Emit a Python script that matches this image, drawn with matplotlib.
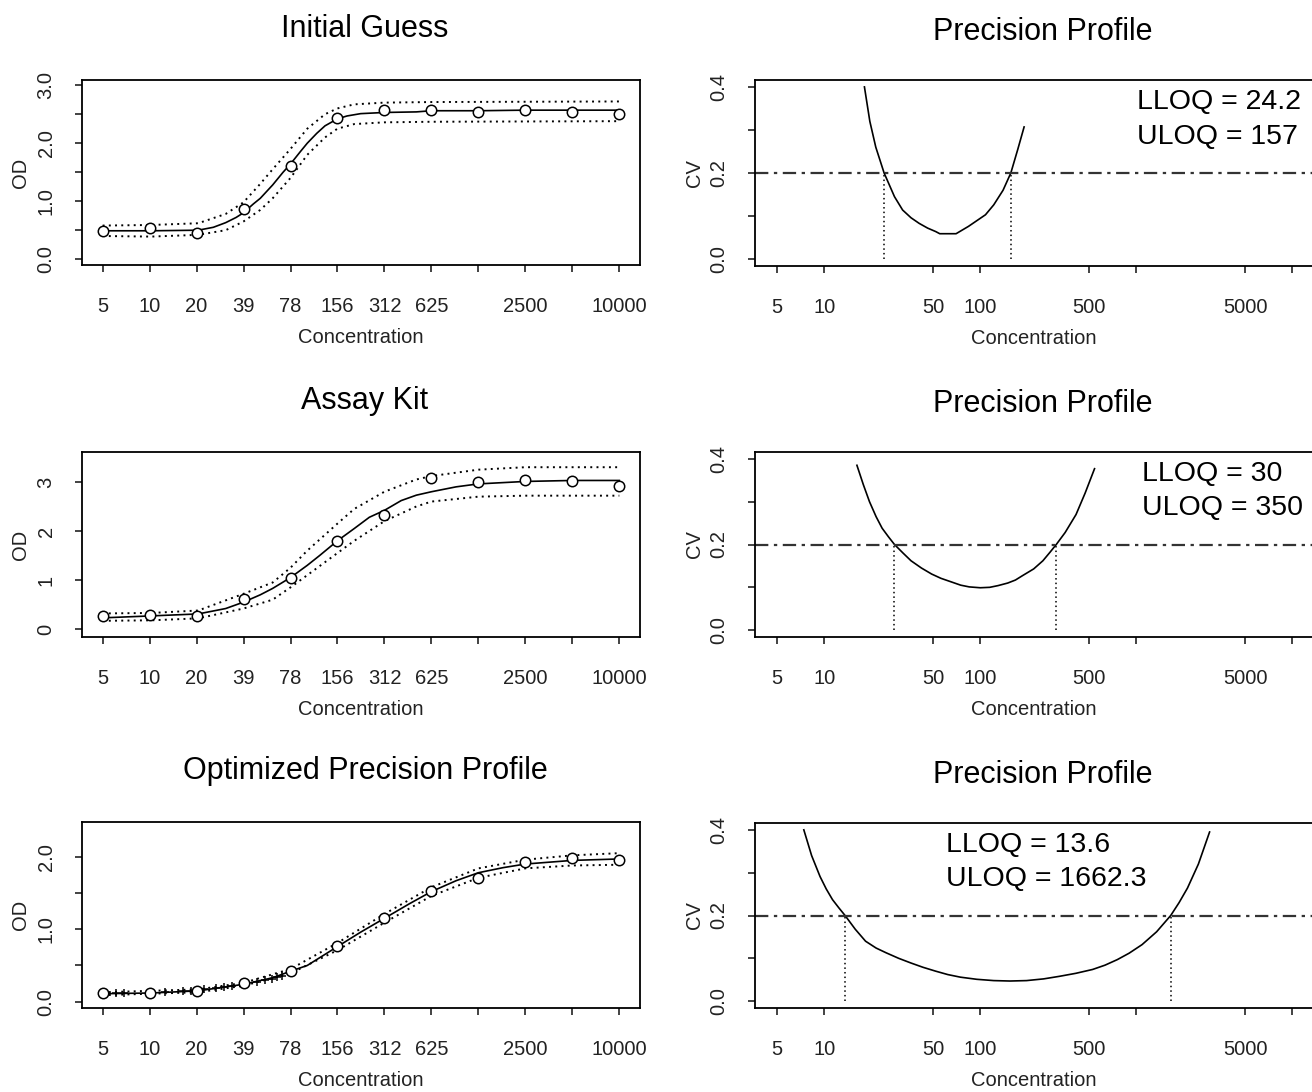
import matplotlib
matplotlib.use("Agg")
from matplotlib import pyplot as plt

plt.rcParams["font.family"] = ["Liberation Sans", "DejaVu Sans"]

# Dilution series (standard-curve panels)
dilution_conc = [4.88, 9.77, 19.53, 39.06, 78.13, 156.25, 312.5, 625, 1250, 2500, 5000, 10000]
dilution_labels = ["5", "10", "20", "39", "78", "156", "312", "625", "", "2500", "", "10000"]

# Precision-profile x ticks
cv_ticks = [5, 10, 50, 100, 500, 1000, 5000, 10000]
cv_tick_labels = ["5", "10", "50", "100", "500", "", "5000", ""]

# --- Initial Guess -------------------------------------------------------
init_obs = [0.49, 0.545, 0.46, 0.86, 1.61, 2.43, 2.57, 2.57, 2.54, 2.58, 2.54, 2.50]
init_fit_c = [4.88, 10, 20, 25, 30, 35, 39, 45, 50, 60, 70, 78, 90, 100, 115, 130,
              156, 180, 220, 312, 500, 625, 1250, 2500, 5000, 10000]
init_fit_od = [0.49, 0.49, 0.50, 0.55, 0.63, 0.72, 0.80, 0.95, 1.05, 1.28, 1.50, 1.64,
               1.85, 2.00, 2.17, 2.30, 2.42, 2.47, 2.51, 2.53, 2.54, 2.56, 2.56, 2.57,
               2.57, 2.57]
init_up_c = [4.88, 10, 20, 30, 39, 50, 60, 78, 100, 130, 156, 200, 312, 625, 10000]
init_up_od = [0.58, 0.59, 0.62, 0.78, 0.98, 1.30, 1.55, 1.90, 2.25, 2.50, 2.60, 2.67,
              2.70, 2.71, 2.72]
init_lo_c = [4.88, 10, 20, 30, 39, 50, 60, 78, 100, 130, 156, 200, 312, 625, 10000]
init_lo_od = [0.40, 0.39, 0.42, 0.50, 0.65, 0.85, 1.05, 1.40, 1.80, 2.10, 2.25, 2.33,
              2.36, 2.37, 2.38]

# --- Assay Kit -----------------------------------------------------------
kit_obs = [0.26, 0.29, 0.26, 0.61, 1.04, 1.79, 2.32, 3.08, 3.00, 3.03, 3.01, 2.91]
kit_fit_c = [4.88, 10, 20, 30, 39, 50, 60, 78, 100, 120, 156, 200, 250, 312, 400, 500,
             625, 900, 1250, 2500, 5000, 10000]
kit_fit_od = [0.23, 0.27, 0.31, 0.42, 0.55, 0.70, 0.83, 1.05, 1.30, 1.50, 1.80, 2.05,
              2.28, 2.42, 2.62, 2.73, 2.80, 2.90, 2.96, 3.01, 3.03, 3.03]
kit_up_c = [4.88, 10, 20, 39, 60, 78, 100, 156, 200, 312, 500, 625, 1250, 2500, 10000]
kit_up_od = [0.32, 0.33, 0.38, 0.72, 0.95, 1.25, 1.60, 2.15, 2.45, 2.80, 3.05, 3.12,
             3.25, 3.30, 3.30]
kit_lo_c = [4.88, 10, 20, 39, 60, 78, 100, 156, 200, 312, 500, 625, 1250, 2500, 10000]
kit_lo_od = [0.17, 0.18, 0.22, 0.42, 0.60, 0.85, 1.10, 1.55, 1.80, 2.20, 2.50, 2.60,
             2.70, 2.72, 2.72]

# --- Optimized Precision Profile -----------------------------------------
opt_obs = [0.115, 0.124, 0.15, 0.26, 0.43, 0.77, 1.15, 1.53, 1.71, 1.93, 1.98, 1.96]
opt_fit_c = [4.88, 10, 20, 39, 60, 78, 100, 156, 220, 312, 450, 625, 900, 1250, 1800,
             2500, 5000, 10000]
opt_fit_od = [0.11, 0.12, 0.15, 0.24, 0.33, 0.42, 0.50, 0.76, 0.96, 1.15, 1.35, 1.52,
              1.67, 1.78, 1.85, 1.90, 1.95, 1.97]
opt_up_c = [4.88, 20, 39, 78, 156, 312, 625, 1250, 2500, 5000, 10000]
opt_up_od = [0.13, 0.17, 0.26, 0.45, 0.81, 1.21, 1.58, 1.84, 1.96, 2.02, 2.05]
opt_lo_c = [4.88, 20, 39, 78, 156, 312, 625, 1250, 2500, 5000, 10000]
opt_lo_od = [0.09, 0.13, 0.22, 0.39, 0.71, 1.09, 1.46, 1.71, 1.84, 1.88, 1.89]
opt_rep_c = [5.93, 6.69, 12.3, 16.0, 18.1, 21.9, 26.0, 29.3, 33.1, 47.6, 53.8, 59.2,
             63.7, 68.5]
opt_rep_od = [0.115, 0.115, 0.13, 0.147, 0.15, 0.17, 0.193, 0.207, 0.22, 0.276, 0.30,
              0.32, 0.345, 0.354]

# --- Precision profiles --------------------------------------------------
pp1_c = [18.1, 19.6, 21.4, 24.2, 28.2, 31.8, 36, 40.6, 46, 51.8, 55, 70, 84, 108, 122,
         140, 157, 174, 191]
pp1_cv = [0.40, 0.32, 0.26, 0.20, 0.145, 0.114, 0.096, 0.083, 0.072, 0.064, 0.059,
          0.059, 0.076, 0.103, 0.126, 0.16, 0.20, 0.255, 0.307]
pp1_lloq, pp1_uloq = 24.2, 157

pp2_c = [16.2, 17.8, 19.5, 21.5, 23.5, 25.8, 28.2, 32, 36, 42, 48.8, 56, 66, 75, 85,
         100, 115, 130, 150, 168, 186, 220, 252, 280, 307, 350, 411, 470, 540]
pp2_cv = [0.385, 0.34, 0.30, 0.265, 0.238, 0.218, 0.20, 0.18, 0.162, 0.145, 0.131,
          0.121, 0.112, 0.105, 0.101, 0.099, 0.100, 0.104, 0.11, 0.117, 0.127, 0.143,
          0.162, 0.182, 0.20, 0.228, 0.27, 0.32, 0.377]
pp2_lloq, pp2_uloq = 28.2, 307

pp3_c = [7.4, 8.3, 9.4, 10.3, 11.3, 12.4, 13.6, 15.8, 18.4, 21.5, 24.9, 30, 36, 43,
         51.8, 62, 74.6, 95, 122, 155, 198, 255, 322, 410, 525, 630, 756, 900, 1089,
         1350, 1662.3, 1880, 2128, 2500, 2950]
pp3_cv = [0.40, 0.34, 0.291, 0.262, 0.237, 0.218, 0.20, 0.168, 0.14, 0.124, 0.113,
          0.10, 0.089, 0.079, 0.07, 0.062, 0.056, 0.051, 0.048, 0.047, 0.048, 0.052,
          0.058, 0.065, 0.074, 0.084, 0.097, 0.112, 0.132, 0.162, 0.20, 0.23, 0.264,
          0.32, 0.395]
pp3_lloq, pp3_uloq = 13.6, 1662.3

XLIM = (3.6, 13570)
W, H = 1312, 1092


def _axes(fig, left_px, top_px, bottom_px, width_px=558):
    return fig.add_axes([left_px / W, 1 - bottom_px / H, width_px / W,
                         (bottom_px - top_px) / H])


def _style(ax):
    for sp in ax.spines.values():
        sp.set_linewidth(1.3)
    ax.set_xscale("log")
    ax.set_xlim(*XLIM)
    ax.minorticks_off()
    ax.tick_params(axis="both", direction="out", length=5, width=1.2,
                   labelsize=14.5, colors="#222222")
    ax.tick_params(axis="x", pad=18)
    ax.tick_params(axis="y", labelrotation=90, pad=14)
    ax.set_xlabel("Concentration", fontsize=14.5, color="#222222")
    ax.xaxis.set_label_coords(0.5, -0.39)
    ax.xaxis.label.set_va("center")


def draw_standard(ax, title, obs, fit_c, fit_od, up_c, up_od, lo_c, lo_od,
                  ylim, yticks, ylabels, rep=None):
    band = dict(color="black", lw=1.4, ls=(0, (1, 2.2)))
    ax.plot(up_c, up_od, **band)
    ax.plot(lo_c, lo_od, **band)
    ax.plot(fit_c, fit_od, color="black", lw=1.2)
    if rep is not None:
        ax.plot(rep[0], rep[1], "+", color="black", ms=6, mew=1.1, ls="none")
    ax.plot(dilution_conc, obs, "o", mfc="white", mec="black", ms=7.5, mew=1.1,
            ls="none")
    _style(ax)
    ax.set_xticks(dilution_conc)
    ax.set_xticklabels(dilution_labels)
    ax.set_ylim(*ylim)
    ax.set_yticks(yticks)
    ax.set_yticklabels(ylabels, rotation=90, va="center")
    ax.set_ylabel("OD", fontsize=14.5, color="#222222")
    ax.yaxis.set_label_coords(-0.111, 0.5)
    ax.yaxis.label.set_va("center")
    ax.set_title(title, fontsize=22, pad=31, x=0.507)


def draw_profile(ax, c, cv, lloq, uloq, lines, text_x):
    ax.plot(c, cv, color="black", lw=1.2)
    ax.axhline(0.2, color="#333333", lw=1.6, ls=(0, (6, 2.5, 1.5, 2.5)))
    ax.vlines([lloq, uloq], 0, 0.2, colors="black", lw=1.1, linestyles=(0, (1, 2)))
    _style(ax)
    ax.set_xticks(cv_ticks)
    ax.set_xticklabels(cv_tick_labels)
    ax.set_ylim(-0.016, 0.416)
    ax.set_yticks([0.0, 0.1, 0.2, 0.3, 0.4])
    ax.set_yticklabels(["0.0", "", "0.2", "", "0.4"], rotation=90, va="center")
    ax.set_ylabel("CV", fontsize=14.5, color="#222222")
    ax.yaxis.set_label_coords(-0.109, 0.5)
    ax.yaxis.label.set_va("center")
    ax.set_title("Precision Profile", fontsize=22, pad=29, x=0.515)
    for i, line in enumerate(lines):
        ax.text(text_x, 0.882 - 0.186 * i, line, transform=ax.transAxes,
                ha="left", va="center", fontsize=20.5)


fig = plt.figure(figsize=(W / 100, H / 100), dpi=100)

ax1 = _axes(fig, 82, 80, 265)
draw_standard(ax1, "Initial Guess", init_obs, init_fit_c, init_fit_od,
              init_up_c, init_up_od, init_lo_c, init_lo_od,
              (-0.10, 3.09), [0, 0.5, 1, 1.5, 2, 2.5, 3],
              ["0.0", "", "1.0", "", "2.0", "", "3.0"])

ax3 = _axes(fig, 82, 452, 637)
draw_standard(ax3, "Assay Kit", kit_obs, kit_fit_c, kit_fit_od,
              kit_up_c, kit_up_od, kit_lo_c, kit_lo_od,
              (-0.16, 3.61), [0, 1, 2, 3], ["0", "1", "2", "3"])

ax5 = _axes(fig, 82, 822, 1008)
draw_standard(ax5, "Optimized Precision Profile", opt_obs, opt_fit_c, opt_fit_od,
              opt_up_c, opt_up_od, opt_lo_c, opt_lo_od,
              (-0.087, 2.48), [0, 0.5, 1, 1.5, 2],
              ["0.0", "", "1.0", "", "2.0"], rep=(opt_rep_c, opt_rep_od))

ax2 = _axes(fig, 755, 80, 266)
draw_profile(ax2, pp1_c, pp1_cv, pp1_lloq, pp1_uloq,
             ["LLOQ = 24.2", "ULOQ = 157"], 0.685)

ax4 = _axes(fig, 755, 452, 637)
draw_profile(ax4, pp2_c, pp2_cv, pp2_lloq, pp2_uloq,
             ["LLOQ = 30", "ULOQ = 350"], 0.694)

ax6 = _axes(fig, 755, 823, 1008)
draw_profile(ax6, pp3_c, pp3_cv, pp3_lloq, pp3_uloq,
             ["LLOQ = 13.6", "ULOQ = 1662.3"], 0.342)

fig.savefig("out.png", dpi=100)
